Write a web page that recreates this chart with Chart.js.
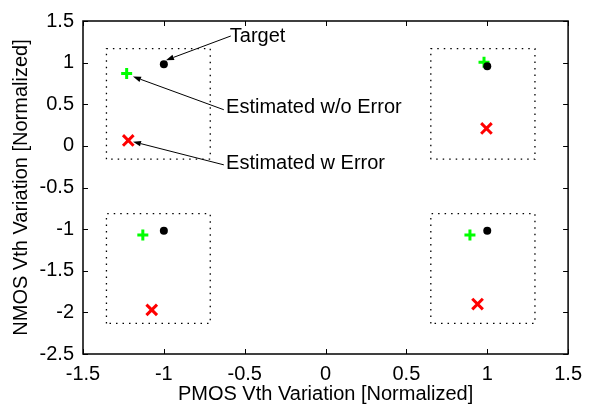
<!DOCTYPE html>
<html>
<head>
<meta charset="utf-8">
<script src="https://cdn.jsdelivr.net/npm/chart.js@4.4.1/dist/chart.umd.min.js"></script>
<style>
  html, body { margin: 0; padding: 0; background: #fff; }
  canvas { display: block; }
</style>
</head>
<body>
<canvas id="chart" width="590" height="408"></canvas>
<script>
// tick labels
const xTicks = [-1.5, -1, -0.5, 0, 0.5, 1, 1.5];
const yTicks = [-2.5, -2, -1.5, -1, -0.5, 0, 0.5, 1, 1.5];

// points (one per corner group)
const targetX = [-1.0, 1.0, -1.0, 1.0];
const targetY = [0.98, 0.955, -1.02, -1.02];
const noErrX = [-1.23, 0.98, -1.13, 0.893];
const noErrY = [0.87, 1.005, -1.07, -1.07];
const withErrX = [-1.22, 0.995, -1.075, 0.94];
const withErrY = [0.065, 0.21, -1.97, -1.90];

// dotted boxes round each group
const boxLeft = [-1.355, 0.651, -1.355, 0.651];
const boxRight = [-0.713, 1.295, -0.713, 1.295];
const boxBottom = [-0.16, -0.16, -2.133, -2.133];
const boxTop = [1.168, 1.168, -0.815, -0.815];

// annotations
const noteText = ['Target', 'Estimated w/o Error', 'Estimated w Error'];
const noteX = [-0.592, -0.615, -0.615];
const noteY = [1.312, 0.462, -0.216];
const arrowFromX = [-0.586, -0.629, -0.629];
const arrowFromY = [1.32, 0.434, -0.228];
const arrowToX = [-0.987, -1.191, -1.191];
const arrowToY = [1.029, 0.833, 0.051];

const FONT = "'Liberation Sans', Arial, Helvetica, sans-serif";
Chart.defaults.font.family = FONT;
Chart.defaults.color = '#000';

const toPts = (xs, ys) => xs.map((x, i) => ({ x: x, y: ys[i] }));

const boxSets = boxLeft.map((l, i) => ({
    type: 'line',
    data: [
        { x: l, y: boxBottom[i] },
        { x: l, y: boxTop[i] },
        { x: boxRight[i], y: boxTop[i] },
        { x: boxRight[i], y: boxBottom[i] },
        { x: l, y: boxBottom[i] }
    ],
    showLine: true,
    borderColor: '#000',
    borderWidth: 1.3,
    borderDash: [1.5, 5],
    pointRadius: 0,
    fill: false,
    tension: 0
}));

// frame, inward ticks on all sides, and the arrow notes
const framePlugin = {
    id: 'frame',
    afterDatasetsDraw(chart) {
        const { ctx, chartArea: a, scales } = chart;
        ctx.save();
        ctx.strokeStyle = '#000';
        ctx.lineWidth = 1.5;
        ctx.strokeRect(a.left, a.top, a.right - a.left, a.bottom - a.top);
        const len = 5;
        ctx.beginPath();
        scales.x.ticks.forEach(t => {
            const px = Math.round(scales.x.getPixelForValue(t.value)) + 0.5;
            ctx.moveTo(px, a.bottom); ctx.lineTo(px, a.bottom - len);
            ctx.moveTo(px, a.top); ctx.lineTo(px, a.top + len);
        });
        scales.y.ticks.forEach(t => {
            const py = Math.round(scales.y.getPixelForValue(t.value)) + 0.5;
            ctx.moveTo(a.left, py); ctx.lineTo(a.left + len, py);
            ctx.moveTo(a.right, py); ctx.lineTo(a.right - len, py);
        });
        ctx.lineWidth = 1;
        ctx.stroke();

        // notes
        ctx.font = `20px ${FONT}`;
        ctx.fillStyle = '#000';
        ctx.textAlign = 'left';
        ctx.textBaseline = 'middle';
        noteText.forEach((txt, i) => {
            ctx.fillText(txt, scales.x.getPixelForValue(noteX[i]), scales.y.getPixelForValue(noteY[i]));
            const x0 = scales.x.getPixelForValue(arrowFromX[i]);
            const y0 = scales.y.getPixelForValue(arrowFromY[i]);
            const x1 = scales.x.getPixelForValue(arrowToX[i]);
            const y1 = scales.y.getPixelForValue(arrowToY[i]);
            const ang = Math.atan2(y1 - y0, x1 - x0);
            const hl = 8, hw = 2.8;
            ctx.beginPath();
            ctx.moveTo(x0, y0);
            ctx.lineTo(x1 - hl * Math.cos(ang), y1 - hl * Math.sin(ang));
            ctx.lineWidth = 1;
            ctx.stroke();
            ctx.beginPath();
            ctx.moveTo(x1, y1);
            ctx.lineTo(x1 - hl * Math.cos(ang) + hw * Math.sin(ang), y1 - hl * Math.sin(ang) - hw * Math.cos(ang));
            ctx.lineTo(x1 - hl * Math.cos(ang) - hw * Math.sin(ang), y1 - hl * Math.sin(ang) + hw * Math.cos(ang));
            ctx.closePath();
            ctx.fill();
        });
        ctx.restore();
    }
};

new Chart(document.getElementById('chart').getContext('2d'), {
    type: 'scatter',
    data: {
        datasets: [
            ...boxSets,
            {
                label: 'Target',
                data: toPts(targetX, targetY),
                pointStyle: 'circle',
                pointRadius: 4,
                backgroundColor: '#000',
                borderColor: '#000',
                borderWidth: 0
            },
            {
                label: 'Estimated w/o Error',
                data: toPts(noErrX, noErrY),
                pointStyle: 'cross',
                pointRadius: 5.5,
                borderColor: '#00ff00',
                borderWidth: 3
            },
            {
                label: 'Estimated w Error',
                data: toPts(withErrX, withErrY),
                pointStyle: 'crossRot',
                pointRadius: 7.5,
                borderColor: '#ff0000',
                borderWidth: 3
            }
        ]
    },
    options: {
        responsive: false,
        animation: false,
        devicePixelRatio: 1,
        layout: { padding: { top: 20, right: 18, left: 0, bottom: 0 } },
        plugins: { legend: { display: false }, tooltip: { enabled: false } },
        scales: {
            x: {
                type: 'linear',
                min: -1.5,
                max: 1.5,
                afterBuildTicks: s => { s.ticks = xTicks.map(v => ({ value: v })); },
                afterFit: s => { s.height = 54; },
                grid: { display: false, drawTicks: false },
                border: { display: false },
                ticks: { padding: 8, font: { size: 20 }, maxRotation: 0, callback: v => String(v) },
                title: {
                    display: true,
                    text: 'PMOS Vth Variation [Normalized]',
                    font: { size: 20 },
                    padding: { top: 0, bottom: 2 }
                }
            },
            y: {
                type: 'linear',
                min: -2.5,
                max: 1.5,
                afterBuildTicks: s => { s.ticks = yTicks.map(v => ({ value: v })); },
                afterFit: s => { s.width = 83; },
                grid: { display: false, drawTicks: false },
                border: { display: false },
                ticks: { padding: 9, font: { size: 20 }, callback: v => String(v) },
                title: {
                    display: true,
                    text: 'NMOS Vth Variation [Normalized]',
                    font: { size: 20 },
                    padding: { top: 9, bottom: 0 }
                }
            }
        }
    },
    plugins: [framePlugin]
});
</script>
</body>
</html>
